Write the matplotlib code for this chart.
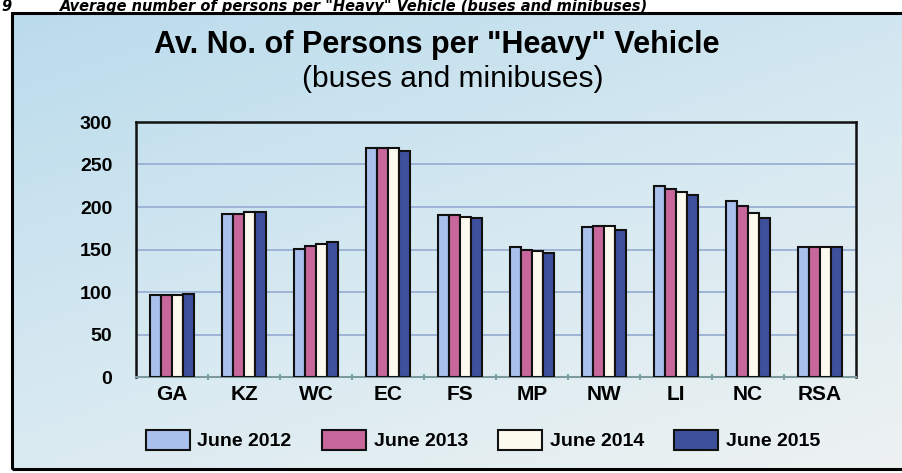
import numpy as np
import matplotlib
matplotlib.use("Agg")
import matplotlib.pyplot as plt
from matplotlib import font_manager
from matplotlib.patches import Rectangle
from matplotlib.colors import LinearSegmentedColormap

categories = ["GA", "KZ", "WC", "EC", "FS", "MP", "NW", "LI", "NC", "RSA"]
series_names = ["June 2012", "June 2013", "June 2014", "June 2015"]
june_2012 = [97, 192, 151, 269, 191, 153, 176, 225, 207, 153]
june_2013 = [97, 192, 154, 269, 190, 149, 178, 221, 201, 153]
june_2014 = [97, 194, 157, 269, 188, 148, 178, 218, 193, 153]
june_2015 = [98, 194, 159, 266, 187, 146, 173, 214, 187, 153]
yticks = [0, 50, 100, 150, 200, 250, 300]

colors = ["#A9C0EC", "#C7679C", "#FCFAEE", "#3E4F9C"]

avail = {f.name for f in font_manager.fontManager.ttflist}
base = "Liberation Sans" if "Liberation Sans" in avail else "DejaVu Sans"
narrow = "Liberation Sans Narrow" if "Liberation Sans Narrow" in avail else base
plt.rcParams["font.family"] = [base, "DejaVu Sans"]

W, H = 903, 473
fig = plt.figure(figsize=(W / 100, H / 100), dpi=100)
fig.patch.set_facecolor("white")

# gradient background inside the frame
bg = fig.add_axes([12 / W, 1 - 469 / H, 1 - 12 / W, (469 - 13) / H])
bg.set_axis_off()
yy, xx = np.mgrid[0:1:200j, 0:1:300j]
t = np.clip(0.6 * yy + 0.4 * xx, 0, 1)
cmap = LinearSegmentedColormap.from_list("bg", ["#BADBEC", "#D6E9F1", "#EEF2F1"])
bg.imshow(t, cmap=cmap, aspect="auto", extent=[0, 1, 0, 1], origin="upper")
bg.set_zorder(0)

# frame
fig.patches.append(Rectangle((12 / W, 1 - 469 / H), 1.2, (469 - 13) / H,
                             transform=fig.transFigure, fill=False,
                             edgecolor="black", linewidth=2.2, zorder=5))

ax = fig.add_axes([136 / W, 1 - 377 / H, (856 - 136) / W, (377 - 122) / H])
ax.set_facecolor("none")
ax.set_zorder(2)

x = np.arange(len(categories))
series = [june_2012, june_2013, june_2014, june_2015]
bw = 0.156
bars = []
for i, (vals, c) in enumerate(zip(series, colors)):
    b = ax.bar(x + (i - 1.5) * bw, vals, width=bw, color=c, edgecolor="#111111",
               linewidth=1.5, zorder=3, label=series_names[i])
    bars.append(b)

ax.set_xlim(-0.5, len(categories) - 0.5)
ax.set_ylim(0, 300)
ax.set_yticks(yticks)
ax.set_yticklabels([str(v) for v in yticks], fontsize=14, fontweight="bold")
ax.set_xticks(x)
ax.set_xticklabels(categories, fontsize=15, fontweight="bold")
ax.tick_params(axis="x", length=0, pad=6)
ax.tick_params(axis="y", length=0, pad=17)
ax.set_xticks(np.arange(0.5, len(categories) - 0.5, 1), minor=True)
ax.tick_params(axis="x", which="minor", length=4, color="#6FA6A8", width=1.5, direction="inout")
ax.yaxis.grid(True, color="#9AAFD4", linewidth=1.3, zorder=1)
ax.set_axisbelow(True)
for s in ["left", "top", "right"]:
    ax.spines[s].set_color("#111111")
    ax.spines[s].set_linewidth(1.8)
ax.spines["bottom"].set_color("#7D9A9E")
ax.spines["bottom"].set_linewidth(1.5)

# titles
fig.text(437 / W, 1 - 45 / H, 'Av. No. of Persons per "Heavy" Vehicle',
         ha="center", va="center", fontsize=22, fontweight="bold", family=[narrow, "DejaVu Sans"])
fig.text(453 / W, 1 - 79 / H, "(buses and minibuses)",
         ha="center", va="center", fontsize=21.5, family=[narrow, "DejaVu Sans"])

# caption strip at top
fig.text(1 / W, 1 - 11 / H, "9", ha="left", va="baseline", fontsize=10.5,
         fontweight="bold", fontstyle="italic", family="DejaVu Sans")
fig.text(60 / W, 1 - 11 / H, 'Average number of persons per "Heavy" Vehicle (buses and minibuses)',
         ha="left", va="baseline", fontsize=10.5, fontweight="bold", fontstyle="italic",
         family="DejaVu Sans")

leg = fig.legend(handles=bars, labels=series_names, loc="center",
                 bbox_to_anchor=(483 / W, 1 - 440 / H), ncol=4, frameon=False,
                 prop={"weight": "bold", "size": 14, "family": [narrow, base]},
                 handlelength=2.27, handleheight=1.2, handletextpad=0.4,
                 columnspacing=1.55)

fig.savefig("out.png", dpi=100)
